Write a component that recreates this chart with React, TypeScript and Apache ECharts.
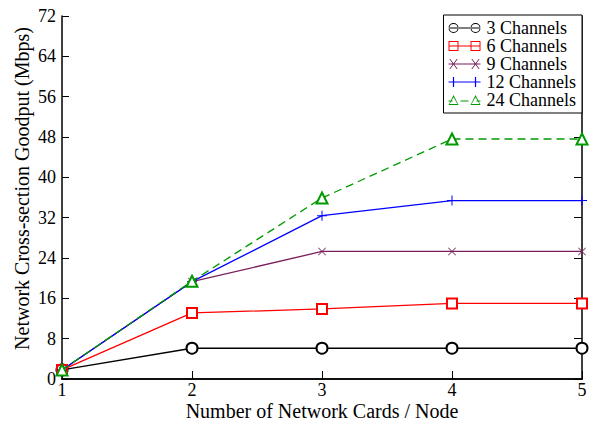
import React, { useEffect, useRef } from "react";
import * as echarts from "echarts";

const xValues = [1, 2, 3, 4, 5];
const seriesNames = ["3 Channels", "6 Channels", "9 Channels", "12 Channels", "24 Channels"];
const ch3 = [1.8, 6.1, 6.1, 6.1, 6.1];
const ch6 = [1.8, 13.1, 13.9, 15.0, 15.0];
const ch9 = [1.8, 19.3, 25.3, 25.3, 25.3];
const ch12 = [1.8, 19.3, 32.4, 35.4, 35.4];
const ch24 = [1.8, 19.4, 35.9, 47.6, 47.6];
const colors = ["#000000", "#ff0000", "#7a1f5c", "#0000ff", "#009900"];

const FONT = "Times New Roman, Times, serif";
const X_SYM = "path://M0,0.07L0.07,0L1,0.93L0.93,1Z M0.93,0L1,0.07L0.07,1L0,0.93Z";
const PLUS_SYM = "path://M0.45,0H0.55V1H0.45Z M0,0.45H1V0.55H0Z";

// legend icons: 32 x 10 box, marker at each end joined by a line
const LINE = "M0,4.4H32V5.6H0Z";
const ring = (cx: number) =>
  `M${cx - 5},5a5,5 0 1,0 10,0a5,5 0 1,0 -10,0Z M${cx - 4},5a4,4 0 1,1 8,0a4,4 0 1,1 -8,0Z`;
const sq = (cx: number) =>
  `M${cx - 5},0H${cx + 5}V10H${cx - 5}Z M${cx - 4},1V9H${cx + 4}V1Z`;
const xm = (cx: number) =>
  `M${cx - 4.2},0L${cx - 3.2},0L${cx + 4.2},10L${cx + 3.2},10Z M${cx + 3.2},0L${cx + 4.2},0L${cx - 3.2},10L${cx - 4.2},10Z`;
const pl = (cx: number) => `M${cx - 0.6},0H${cx + 0.6}V10H${cx - 0.6}Z`;
const tri = (cx: number) =>
  `M${cx},0L${cx + 5},10L${cx - 5},10Z M${cx},2.3L${cx - 3.9},9L${cx + 3.9},9Z`;
const DASHED = "M0,5.4H4V6.6H0Z M12,5.4H20V6.6H12Z M28,5.4H32V6.6H28Z";
const legendIcons = [
  "path://" + LINE + ring(5) + ring(27),
  "path://" + LINE + sq(5) + sq(27),
  "path://" + LINE + xm(5) + xm(27),
  "path://" + LINE + pl(5) + pl(27),
  "path://" + DASHED + tri(5) + tri(27),
];

export default function App() {
  const ref = useRef<HTMLDivElement>(null);
  useEffect(() => {
    const chart = echarts.init(ref.current!, null, { renderer: "svg" });
    const all = [ch3, ch6, ch9, ch12, ch24];
    const symbols = ["emptyCircle", "emptyRect", X_SYM, PLUS_SYM, "emptyTriangle"];
    const sizes = [11, 10, 8, 10, 11];
    const series = all.map((vals, i) => ({
      name: seriesNames[i],
      type: "line",
      data: vals.map((v, j) => [xValues[j], v]),
      symbol: symbols[i],
      symbolSize: sizes[i],
      showAllSymbol: true,
      itemStyle: { color: colors[i], borderWidth: 1.1 },
      lineStyle: { color: colors[i], width: 1.3, type: i === 4 ? [8, 5] : "solid" },
      color: colors[i],
      z: 2 + i,
    }));
    chart.setOption({
      animation: false,
      backgroundColor: "#ffffff",
      textStyle: { fontFamily: FONT },
      grid: { left: 62, right: 8, top: 16, bottom: 44, outerBoundsMode: "none", containLabel: false },
      legend: {
        orient: "vertical",
        right: 8,
        top: 15,
        padding: [4, 6, 4, 5],
        itemGap: 0,
        itemWidth: 32,
        itemHeight: 10,
        backgroundColor: "#ffffff",
        borderColor: "#000000",
        borderWidth: 1,
        borderRadius: 0,
        itemStyle: { borderWidth: 0 },
        textStyle: { fontFamily: FONT, fontSize: 18, lineHeight: 18, color: "#000", padding: [0, 0, 0, 1] },
        data: seriesNames.map((n, i) => ({ name: n, icon: legendIcons[i] })),
      },
      xAxis: [
        {
          type: "value",
          min: 1,
          max: 5,
          interval: 1,
          name: "Number of Network Cards / Node",
          nameLocation: "middle",
          nameGap: 22,
          nameMoveOverlap: false,
          nameTextStyle: { fontFamily: FONT, fontSize: 20, color: "#000" },
          axisLine: { lineStyle: { color: "#000", width: 1.5 } },
          axisTick: { inside: true, length: 8, lineStyle: { color: "#000" } },
          axisLabel: { fontFamily: FONT, fontSize: 18, color: "#000", margin: 2 },
          splitLine: { show: false },
        },
        {
          type: "value",
          position: "top",
          min: 1,
          max: 5,
          interval: 1,
          axisLine: { show: true, lineStyle: { color: "#000", width: 1.5 } },
          axisTick: { show: false },
          axisLabel: { show: false },
          splitLine: { show: false },
        },
      ],
      yAxis: [
        {
          type: "value",
          min: 0,
          max: 72,
          interval: 8,
          name: "Network Cross-section Goodput (Mbps)",
          nameLocation: "middle",
          nameGap: 30,
          nameMoveOverlap: false,
          nameTextStyle: { fontFamily: FONT, fontSize: 20, color: "#000", padding: [0, 0, 0, 18] },
          axisLine: { show: true, lineStyle: { color: "#000", width: 1.5 } },
          axisTick: { show: true, inside: true, length: 7, lineStyle: { color: "#000" } },
          axisLabel: { fontFamily: FONT, fontSize: 18, color: "#000", margin: 6 },
          splitLine: { show: false },
        },
        {
          type: "value",
          position: "right",
          min: 0,
          max: 72,
          interval: 8,
          axisLine: { show: true, lineStyle: { color: "#000", width: 1.5 } },
          axisTick: { show: true, inside: true, length: 8, lineStyle: { color: "#000" } },
          axisLabel: { show: false },
          splitLine: { show: false },
        },
      ],
      series,
    });
    return () => chart.dispose();
  }, []);
  return <div ref={ref} style={{ position: "fixed", left: 0, top: 0, width: 590, height: 423 }} />;
}
